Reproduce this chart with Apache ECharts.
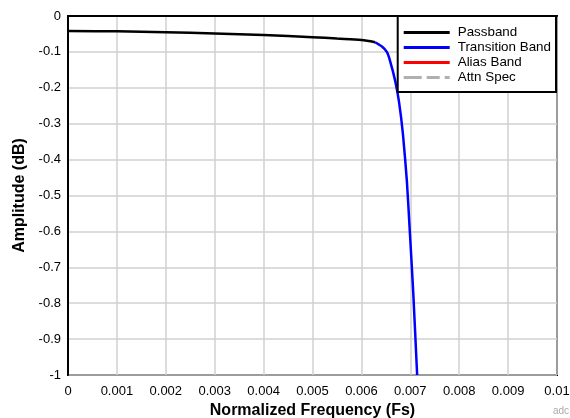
<!DOCTYPE html>
<html>
<head>
<meta charset="utf-8">
<script src="https://cdn.jsdelivr.net/npm/echarts@6/dist/echarts.min.js"></script>
<style>html,body{margin:0;padding:0;background:#fff}#c{width:570px;height:418px}</style>
</head>
<body>
<div id="c"></div>
<script>
var seriesNames = ['Passband', 'Transition Band', 'Alias Band', 'Attn Spec'];
var passFreq = [0, 0.001, 0.002, 0.003, 0.004, 0.005, 0.0055, 0.006, 0.00628];
var passAmp = [-0.042, -0.0425, -0.045, -0.049, -0.053, -0.059, -0.063, -0.067, -0.073];
var transFreq = [0.00628, 0.00642, 0.00652, 0.00658, 0.00669, 0.00677, 0.00685, 0.00693, 0.00699, 0.00706, 0.00714];
var transAmp = [-0.073, -0.085, -0.1, -0.122, -0.18, -0.24, -0.33, -0.46, -0.6, -0.77, -1.0];
var xTicks = [0, 0.001, 0.002, 0.003, 0.004, 0.005, 0.006, 0.007, 0.008, 0.009, 0.01];
var yTicks = [0, -0.1, -0.2, -0.3, -0.4, -0.5, -0.6, -0.7, -0.8, -0.9, -1];

function zip(a, b) { return a.map(function (v, i) { return [v, b[i]]; }); }

var solidIcon = 'path://M0,0h46v3h-46z';
var dashIcon = 'path://M0,0h18v3h-18z M23,0h13v3h-13z M41,0h5v3h-5z';

var chart = echarts.init(document.getElementById('c'), null, {renderer: 'canvas'});
var font = 'Liberation Sans, Arial, Helvetica, sans-serif';
chart.setOption({
  animation: false,
  backgroundColor: '#fff',
  textStyle: {fontFamily: font},
  grid: {left: 68, right: 13, top: 16, bottom: 43, show: true, borderColor: '#000', borderWidth: 2,
    backgroundColor: 'transparent', containLabel: false, outerBoundsMode: 'none'},
  xAxis: {
    type: 'value', min: 0, max: 0.01, interval: 0.001,
    name: 'Normalized Frequency (Fs)', nameLocation: 'middle', nameGap: 24,
    nameTextStyle: {fontSize: 16, fontWeight: 'bold', color: '#000', fontFamily: font},
    axisLine: {show: true, lineStyle: {color: '#000', width: 2}},
    axisTick: {show: false},
    axisLabel: {fontSize: 13, color: '#000', margin: 10, fontFamily: font,
      formatter: function (v) { return String(Number(v.toFixed(4))); }},
    splitLine: {show: true, lineStyle: {color: '#d0d0d0', width: 1.5}}
  },
  yAxis: {
    type: 'value', min: -1, max: 0, interval: 0.1,
    name: 'Amplitude (dB)', nameLocation: 'middle', nameGap: 40, nameRotate: 90,
    nameTextStyle: {fontSize: 16, fontWeight: 'bold', color: '#000', fontFamily: font},
    axisLine: {show: true, lineStyle: {color: '#000', width: 2}},
    axisTick: {show: false},
    axisLabel: {fontSize: 13, color: '#000', margin: 7, fontFamily: font,
      formatter: function (v) { return String(Number(v.toFixed(2))); }},
    splitLine: {show: true, lineStyle: {color: '#d0d0d0', width: 1.5}}
  },
  legend: {
    show: true, orient: 'vertical', right: 14, top: 16,
    data: [
      {name: seriesNames[0], icon: solidIcon},
      {name: seriesNames[1], icon: solidIcon},
      {name: seriesNames[2], icon: solidIcon},
      {name: seriesNames[3], icon: dashIcon}
    ],
    itemWidth: 46, itemHeight: 3, itemGap: 0,
    padding: [9, 5, 7, 6],
    backgroundColor: '#fff', borderColor: '#000', borderWidth: 2, borderRadius: 0,
    textStyle: {fontSize: 13.4, lineHeight: 15, color: '#000', fontFamily: font, padding: [0, 0, 0, 3]}
  },
  series: [
    {name: seriesNames[0], type: 'line', data: zip(passFreq, passAmp), smooth: 0.3, showSymbol: false, symbol: 'none',
      lineStyle: {color: '#000', width: 2.5}, itemStyle: {color: '#000'}},
    {name: seriesNames[1], type: 'line', data: zip(transFreq, transAmp), smooth: 0.2, showSymbol: false, symbol: 'none',
      lineStyle: {color: '#0000ff', width: 2.5}, itemStyle: {color: '#0000ff'}},
    {name: seriesNames[2], type: 'line', data: [], showSymbol: false, symbol: 'none',
      lineStyle: {color: '#ff0000', width: 2.5}, itemStyle: {color: '#ff0000'}},
    {name: seriesNames[3], type: 'line', data: [], showSymbol: false, symbol: 'none',
      lineStyle: {color: '#b0b0b0', width: 2.5, type: [12, 6]}, itemStyle: {color: '#b0b0b0'}}
  ],
  graphic: [
    {type: 'text', left: 553, top: 406, style: {text: 'adc', fontSize: 10, fill: '#aaaaaa', fontFamily: font}}
  ]
});
</script>
</body>
</html>
